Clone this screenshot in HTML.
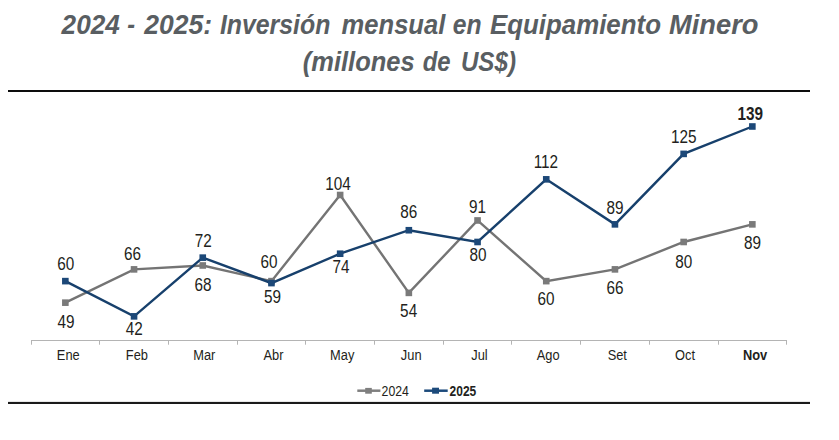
<!DOCTYPE html>
<html><head><meta charset="utf-8"><style>
html,body{margin:0;padding:0;background:#fff;width:839px;height:440px;overflow:hidden}
svg{display:block;font-family:"Liberation Sans",sans-serif}
</style></head><body>
<svg width="839" height="440" viewBox="0 0 839 440">
<text x="61.60" y="33.9" font-size="28" font-weight="bold" font-style="italic" fill="#595e62" textLength="58.28" lengthAdjust="spacingAndGlyphs">2024</text>
<text x="127.34" y="33.9" font-size="28" font-weight="bold" font-style="italic" fill="#595e62" textLength="7.82" lengthAdjust="spacingAndGlyphs">-</text>
<text x="144.32" y="33.9" font-size="28" font-weight="bold" font-style="italic" fill="#595e62" textLength="67.88" lengthAdjust="spacingAndGlyphs">2025:</text>
<text x="219.90" y="33.9" font-size="28" font-weight="bold" font-style="italic" fill="#595e62" textLength="110.48" lengthAdjust="spacingAndGlyphs">Inversión</text>
<text x="341.56" y="33.9" font-size="28" font-weight="bold" font-style="italic" fill="#595e62" textLength="103.78" lengthAdjust="spacingAndGlyphs">mensual</text>
<text x="452.78" y="33.9" font-size="28" font-weight="bold" font-style="italic" fill="#595e62" textLength="28.82" lengthAdjust="spacingAndGlyphs">en</text>
<text x="490.00" y="33.9" font-size="28" font-weight="bold" font-style="italic" fill="#595e62" textLength="170.94" lengthAdjust="spacingAndGlyphs">Equipamiento</text>
<text x="669.00" y="33.9" font-size="28" font-weight="bold" font-style="italic" fill="#595e62" textLength="89.44" lengthAdjust="spacingAndGlyphs">Minero</text>
<text x="302.78" y="70.9" font-size="28" font-weight="bold" font-style="italic" fill="#595e62" textLength="111.88" lengthAdjust="spacingAndGlyphs">(millones</text>
<text x="422.78" y="70.9" font-size="28" font-weight="bold" font-style="italic" fill="#595e62" textLength="27.88" lengthAdjust="spacingAndGlyphs">de</text>
<text x="460.90" y="70.9" font-size="28" font-weight="bold" font-style="italic" fill="#595e62" textLength="55.10" lengthAdjust="spacingAndGlyphs">US$)</text>
<rect x="8" y="90" width="802" height="2" fill="#0d0d0d"/>
<rect x="8" y="401.9" width="802" height="2.1" fill="#1a1a1a"/>
<path d="M31 340.5H787 M31.50 340V344.7 M99.50 340V344.7 M168.50 340V344.7 M237.50 340V344.7 M305.50 340V344.7 M374.50 340V344.7 M443.50 340V344.7 M511.50 340V344.7 M580.50 340V344.7 M649.50 340V344.7 M718.50 340V344.7 M786.50 340V344.7" stroke="#b4b4b4" stroke-width="1" fill="none"/>
<polyline points="65.35,302.66 134.05,269.38 202.75,265.47 271.45,281.13 340.15,195.00 408.85,292.88 477.55,220.45 546.25,281.13 614.95,269.38 683.65,241.98 752.35,224.36" fill="none" stroke="#747474" stroke-width="2.4" stroke-linejoin="miter"/><rect x="62.05" y="299.36" width="6.6" height="6.6" fill="#7a7a7a"/><rect x="130.75" y="266.08" width="6.6" height="6.6" fill="#7a7a7a"/><rect x="199.45" y="262.17" width="6.6" height="6.6" fill="#7a7a7a"/><rect x="268.15" y="277.83" width="6.6" height="6.6" fill="#7a7a7a"/><rect x="336.85" y="191.70" width="6.6" height="6.6" fill="#7a7a7a"/><rect x="405.55" y="289.57" width="6.6" height="6.6" fill="#7a7a7a"/><rect x="474.25" y="217.15" width="6.6" height="6.6" fill="#7a7a7a"/><rect x="542.95" y="277.83" width="6.6" height="6.6" fill="#7a7a7a"/><rect x="611.65" y="266.08" width="6.6" height="6.6" fill="#7a7a7a"/><rect x="680.35" y="238.68" width="6.6" height="6.6" fill="#7a7a7a"/><rect x="749.05" y="221.06" width="6.6" height="6.6" fill="#7a7a7a"/>
<polyline points="65.35,281.13 134.05,316.37 202.75,257.64 271.45,283.09 340.15,253.72 408.85,230.23 477.55,241.98 546.25,179.34 614.95,224.36 683.65,153.89 752.35,126.49" fill="none" stroke="#17406c" stroke-width="2.4" stroke-linejoin="miter"/><rect x="62.05" y="277.83" width="6.6" height="6.6" fill="#1c4878"/><rect x="130.75" y="313.06" width="6.6" height="6.6" fill="#1c4878"/><rect x="199.45" y="254.34" width="6.6" height="6.6" fill="#1c4878"/><rect x="268.15" y="279.79" width="6.6" height="6.6" fill="#1c4878"/><rect x="336.85" y="250.42" width="6.6" height="6.6" fill="#1c4878"/><rect x="405.55" y="226.93" width="6.6" height="6.6" fill="#1c4878"/><rect x="474.25" y="238.68" width="6.6" height="6.6" fill="#1c4878"/><rect x="542.95" y="176.04" width="6.6" height="6.6" fill="#1c4878"/><rect x="611.65" y="221.06" width="6.6" height="6.6" fill="#1c4878"/><rect x="680.35" y="150.59" width="6.6" height="6.6" fill="#1c4878"/><rect x="749.05" y="123.19" width="6.6" height="6.6" fill="#1c4878"/>
<text transform="translate(66.09,327.96) scale(0.86,1)" font-size="17.8" font-weight="normal" fill="#231f20" text-anchor="middle">49</text>
<text transform="translate(65.73,269.98) scale(0.86,1)" font-size="17.8" font-weight="normal" fill="#231f20" text-anchor="middle">60</text>
<text transform="translate(132.46,260.22) scale(0.86,1)" font-size="17.8" font-weight="normal" fill="#231f20" text-anchor="middle">66</text>
<text transform="translate(134.28,334.98) scale(0.86,1)" font-size="17.8" font-weight="normal" fill="#231f20" text-anchor="middle">42</text>
<text transform="translate(203.13,291.12) scale(0.86,1)" font-size="17.8" font-weight="normal" fill="#231f20" text-anchor="middle">68</text>
<text transform="translate(203.30,247.22) scale(0.86,1)" font-size="17.8" font-weight="normal" fill="#231f20" text-anchor="middle">72</text>
<text transform="translate(269.01,268.12) scale(0.86,1)" font-size="17.8" font-weight="normal" fill="#231f20" text-anchor="middle">60</text>
<text transform="translate(272.41,302.96) scale(0.86,1)" font-size="17.8" font-weight="normal" fill="#231f20" text-anchor="middle">59</text>
<text transform="translate(337.91,189.58) scale(0.86,1)" font-size="17.8" font-weight="normal" fill="#231f20" text-anchor="middle">104</text>
<text transform="translate(341.05,272.86) scale(0.86,1)" font-size="17.8" font-weight="normal" fill="#231f20" text-anchor="middle">74</text>
<text transform="translate(408.64,317.04) scale(0.86,1)" font-size="17.8" font-weight="normal" fill="#231f20" text-anchor="middle">54</text>
<text transform="translate(408.70,218.12) scale(0.86,1)" font-size="17.8" font-weight="normal" fill="#231f20" text-anchor="middle">86</text>
<text transform="translate(477.56,213.12) scale(0.86,1)" font-size="17.8" font-weight="normal" fill="#231f20" text-anchor="middle">91</text>
<text transform="translate(478.08,261.22) scale(0.86,1)" font-size="17.8" font-weight="normal" fill="#231f20" text-anchor="middle">80</text>
<text transform="translate(546.01,304.80) scale(0.86,1)" font-size="17.8" font-weight="normal" fill="#231f20" text-anchor="middle">60</text>
<text transform="translate(545.87,168.12) scale(0.86,1)" font-size="17.8" font-weight="normal" fill="#231f20" text-anchor="middle">112</text>
<text transform="translate(614.92,293.52) scale(0.86,1)" font-size="17.8" font-weight="normal" fill="#231f20" text-anchor="middle">66</text>
<text transform="translate(614.97,213.84) scale(0.86,1)" font-size="17.8" font-weight="normal" fill="#231f20" text-anchor="middle">89</text>
<text transform="translate(683.73,267.78) scale(0.86,1)" font-size="17.8" font-weight="normal" fill="#231f20" text-anchor="middle">80</text>
<text transform="translate(683.78,143.12) scale(0.86,1)" font-size="17.8" font-weight="normal" fill="#231f20" text-anchor="middle">125</text>
<text transform="translate(752.40,248.97) scale(0.86,1)" font-size="17.8" font-weight="normal" fill="#231f20" text-anchor="middle">89</text>
<text transform="translate(750.32,119.58) scale(0.86,1)" font-size="17.8" font-weight="bold" fill="#231f20" text-anchor="middle">139</text>
<text transform="translate(68.25,359.80) scale(0.875,1)" font-size="14.7" font-weight="normal" fill="#231f20" text-anchor="middle">Ene</text>
<text transform="translate(136.90,359.80) scale(0.875,1)" font-size="14.7" font-weight="normal" fill="#231f20" text-anchor="middle">Feb</text>
<text transform="translate(204.25,359.80) scale(0.875,1)" font-size="14.7" font-weight="normal" fill="#231f20" text-anchor="middle">Mar</text>
<text transform="translate(273.55,359.80) scale(0.875,1)" font-size="14.7" font-weight="normal" fill="#231f20" text-anchor="middle">Abr</text>
<text transform="translate(342.20,359.80) scale(0.875,1)" font-size="14.7" font-weight="normal" fill="#231f20" text-anchor="middle">May</text>
<text transform="translate(411.20,359.80) scale(0.875,1)" font-size="14.7" font-weight="normal" fill="#231f20" text-anchor="middle">Jun</text>
<text transform="translate(479.50,359.80) scale(0.875,1)" font-size="14.7" font-weight="normal" fill="#231f20" text-anchor="middle">Jul</text>
<text transform="translate(548.20,359.80) scale(0.875,1)" font-size="14.7" font-weight="normal" fill="#231f20" text-anchor="middle">Ago</text>
<text transform="translate(617.30,359.80) scale(0.875,1)" font-size="14.7" font-weight="normal" fill="#231f20" text-anchor="middle">Set</text>
<text transform="translate(685.05,359.80) scale(0.875,1)" font-size="14.7" font-weight="normal" fill="#231f20" text-anchor="middle">Oct</text>
<text transform="translate(755.05,359.80) scale(0.875,1)" font-size="14.7" font-weight="bold" fill="#231f20" text-anchor="middle">Nov</text>
<path d="M357.3 390.7H380.4" stroke="#7f7f7f" stroke-width="2.5"/>
<rect x="365.2" y="387.9" width="6.6" height="5.8" fill="#7f7f7f"/>
<text transform="translate(395.20,395.80) scale(0.835,1)" font-size="14.7" font-weight="normal" fill="#231f20" text-anchor="middle">2024</text>
<path d="M424.2 390.7H447.7" stroke="#1c4a7b" stroke-width="2.5"/>
<rect x="432.1" y="387.7" width="6.9" height="6" fill="#1c4a7b"/>
<text transform="translate(462.90,395.80) scale(0.815,1)" font-size="14.7" font-weight="bold" fill="#231f20" text-anchor="middle">2025</text>
</svg>
</body></html>
